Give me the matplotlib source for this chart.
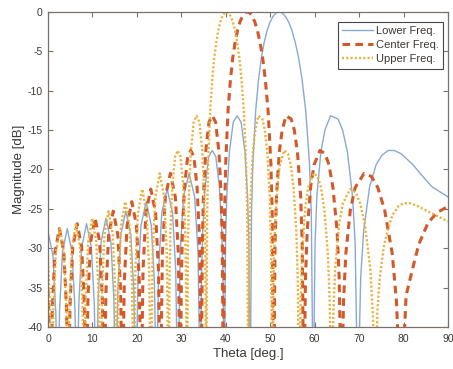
import matplotlib
matplotlib.use("Agg")
import matplotlib.pyplot as plt

# Theta [deg.] and magnitude [dB], read lobe by lobe off the picture
theta_low = [0.00, 1.10, 1.75, 2.18,
             2.61, 3.26, 4.33, 5.41, 6.06, 6.49,
             6.93, 7.58, 8.67, 9.75, 10.41, 10.84,
             11.28, 11.94, 13.05, 14.15, 14.81, 15.25,
             15.70, 16.38, 17.51, 18.63, 19.31, 19.76,
             20.22, 20.92, 22.08, 23.24, 23.94, 24.40,
             24.88, 25.60, 26.81, 28.01, 28.73, 29.21,
             29.72, 30.47, 31.74, 33.00, 33.76, 34.26,
             34.53, 34.80, 35.34, 36.14, 36.95, 37.76, 38.56, 39.10, 39.37, 39.64,
             39.93, 40.22, 40.81, 41.68, 42.56, 43.44, 44.31, 44.90, 45.19, 45.48,
             45.79, 46.09, 46.72, 47.35, 47.99, 48.63, 49.29, 49.95, 50.62, 51.31, 52.00,
             52.70, 53.42, 54.15, 54.89, 55.63, 56.41, 57.19, 57.99, 58.82, 59.24, 59.66,
             60.09, 60.49, 61.39, 62.31, 63.56, 65.24, 66.28, 67.37, 68.51, 69.10, 69.70,
             70.35, 71.02, 72.36, 73.83, 75.14, 76.54, 77.84, 79.42, 82.10, 83.85,
             86.38, 90.00]
mag_low = [-27.9, -30.9, -38.1, -50,
           -37.7, -30.5, -27.5, -30.5, -37.7, -50,
           -37.1, -29.9, -26.9, -29.9, -37.1, -50,
           -36.4, -29.2, -26.2, -29.2, -36.4, -50,
           -35.5, -28.3, -25.3, -28.3, -35.5, -50,
           -34.3, -27.1, -24.1, -27.1, -34.3, -50,
           -32.7, -25.5, -22.5, -25.5, -32.7, -50,
           -30.7, -23.5, -20.5, -23.5, -30.7, -50,
           -33.7, -27.8, -22.2, -18.4, -17.6, -18.4, -22.2, -27.8, -33.7, -50,
           -29.3, -23.4, -17.8, -14.0, -13.2, -14.0, -17.8, -23.4, -29.3, -50,
           -25.6, -19.2, -12.6, -8.7, -5.9, -3.9, -2.4, -1.3, -0.6, -0.14, 0.0,
           -0.14, -0.6, -1.3, -2.4, -3.9, -5.9, -8.7, -12.6, -19.2, -25.6, -50,
           -29.3, -23.4, -17.8, -15.0, -13.2, -13.6, -15.0, -17.8, -23.4, -29.3, -50,
           -33.7, -27.8, -22.2, -19.4, -18.2, -17.6, -17.6, -18.0, -19.4, -20.6,
           -22.2, -23.5]

theta_mid = [0.00, 0.25, 0.57,
             0.97, 1.57, 2.57, 3.56, 4.16, 4.56,
             4.96, 5.56, 6.57, 7.57, 8.17, 8.57,
             8.98, 9.58, 10.60, 11.61, 12.22, 12.62,
             13.03, 13.65, 14.68, 15.71, 16.33, 16.74,
             17.16, 17.79, 18.85, 19.90, 20.53, 20.95,
             21.38, 22.03, 23.12, 24.20, 24.85, 25.28,
             25.73, 26.40, 27.53, 28.65, 29.32, 29.77,
             30.01, 30.24, 30.71, 31.42, 32.12, 32.83, 33.53, 34.00, 34.24, 34.47,
             34.72, 34.97, 35.47, 36.22, 36.97, 37.71, 38.46, 38.96, 39.21, 39.46,
             39.72, 39.98, 40.50, 41.03, 41.55, 42.09, 42.63, 43.17, 43.72, 44.27, 44.83,
             45.39, 45.96, 46.54, 47.13, 47.71, 48.31, 48.91, 49.52, 50.14, 50.44, 50.76,
             51.08, 51.41, 52.03, 52.69, 53.55, 54.71, 55.41, 56.12, 56.84, 57.19, 57.55,
             57.93, 58.32, 59.09, 59.88, 61.17, 62.33, 63.20, 64.09, 65.04, 65.51, 66.00,
             66.50, 67.01, 68.03, 69.12, 71.13, 72.78, 74.19, 75.72, 77.45, 78.38, 79.42,
             80.57, 82.52, 83.43, 85.49, 87.50, 90.00]
mag_mid = [-35.3, -40.0, -50,
           -37.7, -30.5, -27.5, -30.5, -37.7, -50,
           -37.1, -29.9, -26.9, -29.9, -37.1, -50,
           -36.4, -29.2, -26.2, -29.2, -36.4, -50,
           -35.5, -28.3, -25.3, -28.3, -35.5, -50,
           -34.3, -27.1, -24.1, -27.1, -34.3, -50,
           -32.7, -25.5, -22.5, -25.5, -32.7, -50,
           -30.7, -23.5, -20.5, -23.5, -30.7, -50,
           -33.7, -27.8, -22.2, -18.4, -17.6, -18.4, -22.2, -27.8, -33.7, -50,
           -29.3, -23.4, -17.8, -14.0, -13.2, -14.0, -17.8, -23.4, -29.3, -50,
           -25.6, -19.2, -12.6, -8.7, -5.9, -3.9, -2.4, -1.3, -0.6, -0.14, 0.0,
           -0.14, -0.6, -1.3, -2.4, -3.9, -5.9, -8.7, -12.6, -19.2, -25.6, -50,
           -29.3, -23.4, -17.8, -15.0, -13.2, -13.6, -15.0, -17.8, -23.4, -29.3, -50,
           -33.7, -27.8, -22.2, -19.4, -17.6, -18.0, -19.4, -22.2, -27.8, -33.7, -50,
           -36.6, -30.7, -25.1, -22.3, -20.5, -20.9, -22.3, -25.1, -30.7, -36.6, -50,
           -36.0, -31.5, -29.5, -26.8, -25.5, -24.7]

theta_up = [0.00, 0.50, 0.86,
            1.22, 1.76, 2.67, 3.57, 4.11, 4.47,
            4.83, 5.38, 6.29, 7.20, 7.75, 8.11,
            8.48, 9.03, 9.94, 10.86, 11.40, 11.77,
            12.14, 12.70, 13.63, 14.56, 15.12, 15.49,
            15.87, 16.44, 17.38, 18.33, 18.89, 19.27,
            19.66, 20.24, 21.21, 22.17, 22.75, 23.14,
            23.54, 24.14, 25.14, 26.13, 26.73, 27.13,
            27.34, 27.54, 27.96, 28.58, 29.20, 29.82, 30.44, 30.86, 31.06, 31.27,
            31.49, 31.70, 32.13, 32.78, 33.43, 34.08, 34.73, 35.16, 35.37, 35.59,
            35.81, 36.04, 36.49, 36.93, 37.39, 37.85, 38.30, 38.76, 39.23, 39.69, 40.17,
            40.64, 41.12, 41.60, 42.08, 42.57, 43.06, 43.56, 44.06, 44.56, 44.82, 45.07,
            45.33, 45.59, 46.10, 46.63, 47.32, 48.22, 48.77, 49.33, 49.88, 50.16, 50.44,
            50.73, 51.02, 51.59, 52.18, 53.13, 53.98, 54.60, 55.23, 55.86, 56.18, 56.51,
            56.84, 57.18, 57.84, 58.53, 59.73, 60.68, 61.41, 62.18, 62.97, 63.37, 63.78,
            64.19, 64.60, 65.46, 66.34, 68.00, 69.20, 70.23, 71.32, 72.53, 73.10, 73.74,
            74.10, 74.60, 75.50, 76.50, 77.50, 78.80, 80.00, 81.50, 83.00, 85.00, 87.50, 90.00]
mag_up = [-31.2, -38.1, -50,
          -37.7, -30.5, -27.5, -30.5, -37.7, -50,
          -37.1, -29.9, -26.9, -29.9, -37.1, -50,
          -36.4, -29.2, -26.2, -29.2, -36.4, -50,
          -35.5, -28.3, -25.3, -28.3, -35.5, -50,
          -34.3, -27.1, -24.1, -27.1, -34.3, -50,
          -32.7, -25.5, -22.5, -25.5, -32.7, -50,
          -30.7, -23.5, -20.5, -23.5, -30.7, -50,
          -33.7, -27.8, -22.2, -18.4, -17.6, -18.4, -22.2, -27.8, -33.7, -50,
          -29.3, -23.4, -17.8, -14.0, -13.2, -14.0, -17.8, -23.4, -29.3, -50,
          -25.6, -19.2, -12.6, -8.7, -5.9, -3.9, -2.4, -1.3, -0.6, -0.14, 0.0,
          -0.14, -0.6, -1.3, -2.4, -3.9, -5.9, -8.7, -12.6, -19.2, -25.6, -50,
          -29.3, -23.4, -17.8, -15.0, -13.2, -13.6, -15.0, -17.8, -23.4, -29.3, -50,
          -33.7, -27.8, -22.2, -19.4, -17.6, -18.0, -19.4, -22.2, -27.8, -33.7, -50,
          -36.6, -30.7, -25.1, -22.3, -20.5, -20.9, -22.3, -25.1, -30.7, -36.6, -50,
          -38.6, -32.7, -27.1, -24.3, -22.5, -22.9, -24.3, -27.1, -32.7, -38.6, -50,
          -38.0, -34.0, -30.0, -27.5, -25.8, -24.7, -24.3, -24.3, -24.6, -25.2, -25.9, -26.6]

labels = ["Lower Freq.", "Center Freq.", "Upper Freq."]
x_ticks = [0, 10, 20, 30, 40, 50, 60, 70, 80, 90]
y_ticks = [0, -5, -10, -15, -20, -25, -30, -35, -40]

plt.rcParams['font.family'] = ['Liberation Sans', 'DejaVu Sans']
plt.rcParams['axes.unicode_minus'] = False
frame = '#7a716b'
txt = '#3c3834'

fig = plt.figure(figsize=(4.53, 3.69), dpi=100)
ax = fig.add_axes([0.106, 0.114, 0.883, 0.854])

ax.plot(theta_low, mag_low, color='#86a9d6', lw=1.0, label=labels[0])
ax.plot(theta_mid, mag_mid, color='#d4582a', lw=2.2, dashes=(2.5, 1.7), label=labels[1])
ax.plot(theta_up, mag_up, color='#eab13c', lw=1.7, dashes=(0.9, 0.9), label=labels[2])

ax.set_xlim(0, 90)
ax.set_ylim(-40, 0)
ax.set_xticks(x_ticks)
ax.set_yticks(y_ticks)
ax.tick_params(direction='in', length=3.5, width=0.8, colors=frame, labelcolor=txt,
               labelsize=7.5, top=True, right=True)
ax.tick_params(axis='x', pad=5)
ax.tick_params(axis='y', pad=4)
for s in ax.spines.values():
    s.set_color(frame)
    s.set_linewidth(0.9)

ax.set_xlabel("Theta [deg.]", fontsize=9.5, color=txt, labelpad=3)
ax.set_ylabel("Magnitude [dB]", fontsize=9.5, color=txt, labelpad=2)

leg = ax.legend(loc='upper right', bbox_to_anchor=(0.9875, 0.968), borderaxespad=0,
                fontsize=8, handlelength=2.8, handletextpad=0.2, labelspacing=0.35,
                borderpad=0.4, fancybox=False, framealpha=1)
leg.get_frame().set_edgecolor('#4a4542')
leg.get_frame().set_linewidth(0.8)
for t in leg.get_texts():
    t.set_color(txt)

fig.savefig("out.png", dpi=100)
